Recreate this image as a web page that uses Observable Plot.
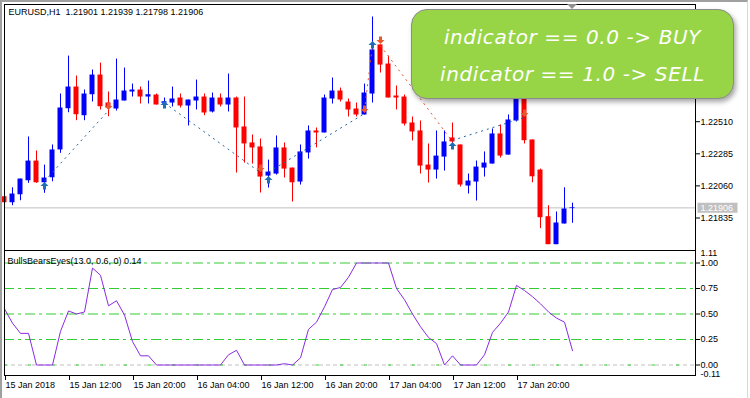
<!DOCTYPE html>
<html><head><meta charset="utf-8">
<script src="https://cdn.jsdelivr.net/npm/d3@7"></script>
<script src="https://cdn.jsdelivr.net/npm/@observablehq/plot@0.6"></script>
<style>
html,body{margin:0;padding:0;background:#fff;}
#wrap{position:relative;width:750px;height:398px;overflow:hidden;background:#fff;}
#wrap svg{position:absolute;left:0;}
#outer{position:absolute;left:0;top:0;width:748px;height:398px;border-left:2px solid #a0a0a0;border-top:2px solid #a0a0a0;border-right:1px solid #d8d8d8;box-sizing:border-box;pointer-events:none;}
#note{position:absolute;left:411px;top:9px;width:323px;height:90px;background:#98d546;border:1px solid #8c8c8c;border-radius:16px;box-shadow:2px 3px 5px rgba(0,0,0,.35);color:#fff;font-family:"DejaVu Sans",sans-serif;font-style:oblique;font-size:20px;letter-spacing:0.6px;text-align:center;line-height:37px;padding-top:9px;box-sizing:border-box;white-space:nowrap;}
#tri{position:absolute;left:567px;top:4px;width:0;height:0;border-left:5px solid transparent;border-right:5px solid transparent;border-top:5px solid #909090;}
</style></head>
<body>
<div id="wrap"></div>
<script>
// ---- data ----
const headerText = "EURUSD,H1  1.21901 1.21939 1.21798 1.21906";
const indicatorLabel = "BullsBearsEyes(13.0, 0.6, 0) 0.14";
const opens  = [1.21984,1.21942,1.21998,1.22096,1.22234,1.22082,1.22117,1.22312,1.22601,1.22753,1.22552,1.22699,1.22837,1.22641,1.22599,1.22655,1.22718,1.22732,1.22683,1.22697,1.22639,1.22641,1.22676,1.22620,1.22655,1.22683,1.22578,1.22676,1.22627,1.22676,1.22473,1.22361,1.22333,1.22129,1.22143,1.22326,1.22185,1.22087,1.22291,1.22445,1.22431,1.22669,1.22725,1.22648,1.22599,1.22557,1.22704,1.23048,1.22914,1.22690,1.22683,1.22501,1.22445,1.22206,1.22171,1.22262,1.22396,1.22347,1.22059,1.22087,1.22185,1.22213,1.22424,1.22276,1.22515,1.22690,1.22382,1.22171,1.21844,1.21648,1.21793,1.21901];
const highs  = [1.21996,1.22047,1.22108,1.22403,1.22305,1.22206,1.22347,1.22704,1.22970,1.22830,1.22732,1.22872,1.22921,1.22718,1.22949,1.22886,1.22774,1.22753,1.22795,1.22704,1.22676,1.22753,1.22704,1.22662,1.22802,1.22704,1.22711,1.22704,1.22844,1.22683,1.22683,1.22417,1.22389,1.22241,1.22410,1.22361,1.22185,1.22347,1.22480,1.22466,1.22697,1.22816,1.22746,1.22669,1.22641,1.22774,1.23244,1.23048,1.22970,1.22760,1.22697,1.22543,1.22515,1.22354,1.22445,1.22445,1.22501,1.22347,1.22143,1.22234,1.22298,1.22459,1.22487,1.22557,1.22746,1.22718,1.22382,1.22178,1.21921,1.21877,1.22047,1.21939];
const lows   = [1.21936,1.21921,1.21956,1.22078,1.22078,1.22008,1.22089,1.22288,1.22573,1.22517,1.22517,1.22648,1.22592,1.22545,1.22585,1.22655,1.22683,1.22634,1.22634,1.22627,1.22620,1.22613,1.22606,1.22480,1.22592,1.22552,1.22571,1.22613,1.22578,1.22150,1.22220,1.22213,1.22010,1.22045,1.22136,1.22115,1.21947,1.22066,1.22248,1.22326,1.22431,1.22634,1.22648,1.22543,1.22543,1.22557,1.22641,1.22851,1.22676,1.22592,1.22480,1.22375,1.22143,1.22080,1.22108,1.22164,1.22347,1.22052,1.22003,1.21954,1.22122,1.22213,1.22255,1.22276,1.22508,1.22354,1.22082,1.21760,1.21648,1.21648,1.21793,1.21798];
const closes = [1.21942,1.22003,1.22108,1.22234,1.22082,1.22115,1.22312,1.22606,1.22753,1.22559,1.22704,1.22837,1.22615,1.22606,1.22662,1.22725,1.22732,1.22683,1.22699,1.22627,1.22650,1.22669,1.22620,1.22662,1.22683,1.22571,1.22676,1.22627,1.22676,1.22466,1.22354,1.22326,1.22122,1.22157,1.22326,1.22178,1.22082,1.22298,1.22445,1.22431,1.22676,1.22725,1.22662,1.22592,1.22557,1.22711,1.23013,1.22907,1.22676,1.22676,1.22494,1.22438,1.22199,1.22171,1.22269,1.22368,1.22368,1.22066,1.22094,1.22192,1.22220,1.22424,1.22269,1.22522,1.22718,1.22377,1.22124,1.21837,1.21648,1.21800,1.21898,1.21906];
const indicator = [0.55,0.41,0.31,0.31,0,0,0,0.33,0.53,0.50,0.52,0.95,0.88,0.58,0.63,0.49,0.23,0.09,0.09,0,
  0,0,0,0,0,0,0,0,0.10,0.144, 0,0,0,0,0,0.013,0,0.07,0.35,0.42,
  0.57,0.74,0.76,0.86,1,1,1,1,1,0.75, 0.64,0.50,0.375,0.27,0.21,0,0.09,0,0,0,
  0.10,0.32,0.41,0.52,0.78,0.73,0.67,0.60,0.52,0.46, 0.42,0.14];
const buyIdx = [5,20,33,46,56];
const buyPrice = [1.22059,1.22627,1.22101,1.23048,1.22340];
const sellIdx = [13,32,45,47,65];
const sellPrice = [1.22620,1.22185,1.22599,1.23083,1.22571];
const segX1 = [5,20,33,45,47,56];
const segY1 = [1.22094,1.22641,1.22157,1.22592,1.23043,1.22379];
const segX2 = [13,32,45,46,56,65];
const segY2 = [1.22588,1.22153,1.22567,1.23048,1.22370,1.22540];
const segKind = ["up","up","up","dn","dn","up"];
const priceTicks = [1.21835,1.22060,1.22285,1.22510];
const levelTicks = [1.00,0.75,0.50,0.25,0.00];
const levelEdges = [1.11,-0.11];
const tickIdx = [0,8,16,24,32,40,48,56,64];
const tickLabels = ["15 Jan 2018","15 Jan 12:00","15 Jan 20:00","16 Jan 04:00","16 Jan 12:00","16 Jan 20:00","17 Jan 04:00","17 Jan 12:00","17 Jan 20:00"];

// ---- build ----
const BLUE = "#0000ff", RED = "#ff0000";
const candles = closes.map((c,i)=>({i, o:opens[i], h:highs[i], l:lows[i], c, up: c >= opens[i]}));
const buys = buyIdx.map((i,k)=>({i, p:buyPrice[k]}));
const sells = sellIdx.map((i,k)=>({i, p:sellPrice[k]}));
const segs = segX1.map((x,k)=>({x1:x, y1:segY1[k], x2:segX2[k], y2:segY2[k], kind:segKind[k]}));
const ind = indicator.map((v,i)=>({i, v}));
const last = closes[closes.length-1];

const upArrow = {draw(ctx){ctx.moveTo(0,-4);ctx.lineTo(4,0);ctx.lineTo(1.5,0);ctx.lineTo(1.5,3.5);ctx.lineTo(-1.5,3.5);ctx.lineTo(-1.5,0);ctx.lineTo(-4,0);ctx.closePath();}};
const downArrow = {draw(ctx){ctx.moveTo(0,4);ctx.lineTo(4,0);ctx.lineTo(1.5,0);ctx.lineTo(1.5,-3.5);ctx.lineTo(-1.5,-3.5);ctx.lineTo(-1.5,0);ctx.lineTo(-4,0);ctx.closePath();}};
const labelBox = {draw(ctx){ctx.rect(-20,-5,40,10);}};

const style = {fontFamily:"'Liberation Sans', Arial, sans-serif", fontSize:"9px", color:"black", background:"transparent", overflow:"visible"};
const xs = {type:"linear", domain:[0, 86.375], range:[4, 695], label:null};

const upper = Plot.plot({
  width:750, height:251, marginLeft:4, marginRight:55, marginTop:4, marginBottom:1,
  style,
  x:{...xs, axis:null},
  y:{domain:[1.21835,1.22510], range:[217.5,121.2], label:null, axis:null},
  marks:[
    Plot.ruleY([last], {stroke:"#c0c0c0"}),
    Plot.ruleX(candles, {x:"i", y1:"l", y2:"h", stroke:d=>d.up?BLUE:RED}),
    Plot.rect(candles, {x1:d=>d.i-0.3125, x2:d=>d.i+0.3125, y1:"o", y2:"c", fill:d=>d.up?BLUE:RED}),
    Plot.link(segs, {x1:"x1", y1:"y1", x2:"x2", y2:"y2", stroke:d=>d.kind==="up"?"#1f66a8":"#e4532b", strokeDasharray:"2,4"}),
    Plot.dot(buys, {x:"i", y:"p", symbol:upArrow, fill:"#1f6db5", stroke:"none"}),
    Plot.dot(sells, {x:"i", y:"p", symbol:downArrow, fill:"#e8582c", stroke:"none"}),
    Plot.axisY({anchor:"right", ticks:priceTicks, tickFormat:d=>d.toFixed(5), tickSize:4, tickPadding:1}),
    Plot.dot([last], {y:d=>d, frameAnchor:"right", dx:22, symbol:labelBox, fill:"#c0c0c0", stroke:"none"}),
    Plot.text([last], {y:d=>d, frameAnchor:"right", textAnchor:"start", dx:5, text:d=>d.toFixed(5), fill:"white"}),
    Plot.text([headerText], {frameAnchor:"top-left", dx:4, dy:4.5}),
    Plot.frame()
  ]
});

const lower = Plot.plot({
  width:750, height:148, marginLeft:4, marginRight:55, marginTop:0, marginBottom:23,
  style,
  x:{...xs},
  y:{domain:[0,1], range:[114.5,12.5], label:null, axis:null},
  marks:[
    Plot.ruleY(levelTicks.filter(d=>d>0), {stroke:"#32cd32", strokeDasharray:"10,4,3,4"}),
    Plot.ruleY([0], {stroke:"#c0c0c0", strokeDasharray:"4,3"}),
    Plot.ruleY([0], {stroke:"#32cd32", strokeDasharray:"3,21"}),
    Plot.line(ind, {x:"i", y:"v", stroke:"#8a2be2", strokeWidth:1}),
    Plot.axisY({anchor:"right", ticks:levelTicks, tickFormat:d=>d.toFixed(2), tickSize:4, tickPadding:1}),
    Plot.text(levelEdges, {y:d=>d, frameAnchor:"right", textAnchor:"start", dx:5, dy:1.5, text:d=>d.toFixed(2), filter:d=>d>1}),
    Plot.text(levelEdges, {y:d=>d, frameAnchor:"right", textAnchor:"start", dx:5, dy:-2.5, text:d=>d.toFixed(2), filter:d=>d<0}),
    Plot.axisX({anchor:"bottom", ticks:tickIdx, tickFormat:d=>tickLabels[tickIdx.indexOf(d)], tickSize:5, tickPadding:1.5, textAnchor:"start", dx:1}),
    Plot.text([indicatorLabel], {frameAnchor:"top-left", dx:3, dy:7.5}),
    Plot.frame()
  ]
});

const wrap = document.getElementById("wrap");
upper.style.top = "0px";
lower.style.top = "250px";
wrap.appendChild(upper);
wrap.appendChild(lower);
const note = document.createElement("div");
note.id = "note";
note.innerHTML = "indicator == 0.0 -&gt; BUY<br>indicator == 1.0 -&gt; SELL";
wrap.appendChild(note);
const tri = document.createElement("div"); tri.id="tri"; wrap.appendChild(tri);
const outer = document.createElement("div"); outer.id="outer"; wrap.appendChild(outer);
</script>
</body></html>
